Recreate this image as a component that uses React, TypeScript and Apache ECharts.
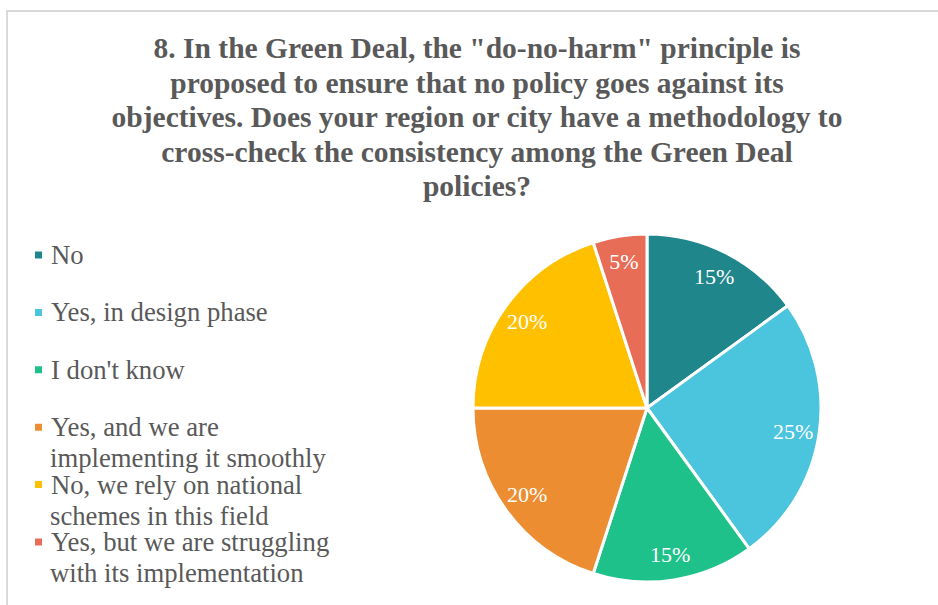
import { useEffect, useRef } from "react";
import * as echarts from "echarts";

const titleLines = [
  '8. In the Green Deal, the "do-no-harm" principle is',
  "proposed to ensure that no policy goes against its",
  "objectives. Does your region or city have a methodology to",
  "cross-check the consistency among the Green Deal",
  "policies?",
];

const categories = [
  "No",
  "Yes, in design phase",
  "I don't know",
  "Yes, and we are implementing it smoothly",
  "No, we rely on national schemes in this field",
  "Yes, but we are struggling with its implementation",
];

const legendLines = [
  ["No"],
  ["Yes, in design phase"],
  ["I don't know"],
  ["Yes, and we are", "implementing it smoothly"],
  ["No, we rely on national", "schemes in this field"],
  ["Yes, but we are struggling", "with its implementation"],
];

const values = [15, 25, 15, 20, 20, 5];

const colors = ["#1F868B", "#4BC4DD", "#1FC18A", "#ED8D31", "#FFC000", "#E86D56"];

const FONT = '"Liberation Serif", "Times New Roman", serif';

export default function App() {
  const ref = useRef<HTMLDivElement>(null);

  useEffect(() => {
    if (!ref.current) return;
    const chart = echarts.init(ref.current, null, { renderer: "svg" });

    const LINE_H = 31;
    const LEG_LEFT = 33;
    const ICON = 9;
    const TEXT_X = LEG_LEFT + ICON + 5 + 3;
    const FS = 26.7;
    const rowY = (i: number) => 255 + i * 57.4;

    const legends = categories.map((name, i) => ({
      data: [{ name, itemStyle: { color: colors[i] } }],
      orient: "vertical",
      left: LEG_LEFT,
      top: rowY(i) - LINE_H / 2,
      padding: 0,
      itemWidth: ICON,
      itemHeight: ICON,
      icon: "rect",
      selectedMode: false,
      formatter: () => legendLines[i][0],
      textStyle: {
        color: "#595959",
        fontFamily: FONT,
        fontSize: FS,
        lineHeight: LINE_H,
        padding: [0, 0, 0, 3],
      },
    }));

    const continuation: any[] = [];
    legendLines.forEach((lines, i) => {
      lines.slice(1).forEach((line, k) => {
        continuation.push({
          type: "text",
          x: TEXT_X,
          y: rowY(i) + (k + 1) * LINE_H,
          silent: true,
          style: {
            text: line,
            align: "left",
            verticalAlign: "middle",
            fill: "#595959",
            font: `${FS}px ${FONT}`,
          },
        });
      });
    });

    const data = categories.map((name, i) => ({
      name,
      value: values[i],
      itemStyle: { color: colors[i] },
    }));

    chart.setOption({
      animation: false,
      backgroundColor: "#ffffff",
      graphic: [
        {
          type: "rect",
          shape: { x: 7, y: 11, width: 1200, height: 1200 },
          style: { fill: "none", stroke: "#d9d9d9", lineWidth: 2 },
          silent: true,
        },
        {
          type: "text",
          x: 477,
          y: 31,
          style: {
            text: titleLines.join("\n"),
            align: "center",
            verticalAlign: "top",
            fill: "#595959",
            font: `bold 29.5px ${FONT}`,
            lineHeight: 34.5,
          },
        },
        ...continuation,
      ],
      legend: legends,
      series: [
        {
          type: "pie",
          center: [647, 408],
          radius: [0, 174],
          startAngle: 90,
          clockwise: true,
          data,
          label: { show: false },
          labelLine: { show: false },
          itemStyle: { borderColor: "#ffffff", borderWidth: 3 },
          emphasis: { disabled: true },
        },
        {
          type: "pie",
          center: [647, 408],
          radius: [116, 174],
          startAngle: 90,
          clockwise: true,
          silent: true,
          data: categories.map((name, i) => ({
            name,
            value: values[i],
            itemStyle: { color: "rgba(0,0,0,0)" },
          })),
          label: {
            show: true,
            position: "inside",
            formatter: "{c}%",
            color: "#ffffff",
            fontFamily: FONT,
            fontSize: 22,
          },
          labelLine: { show: false },
          emphasis: { disabled: true },
        },
      ],
    });

    return () => chart.dispose();
  }, []);

  return (
    <div
      ref={ref}
      style={{ position: "fixed", left: 0, top: 0, width: 938, height: 605 }}
    />
  );
}
